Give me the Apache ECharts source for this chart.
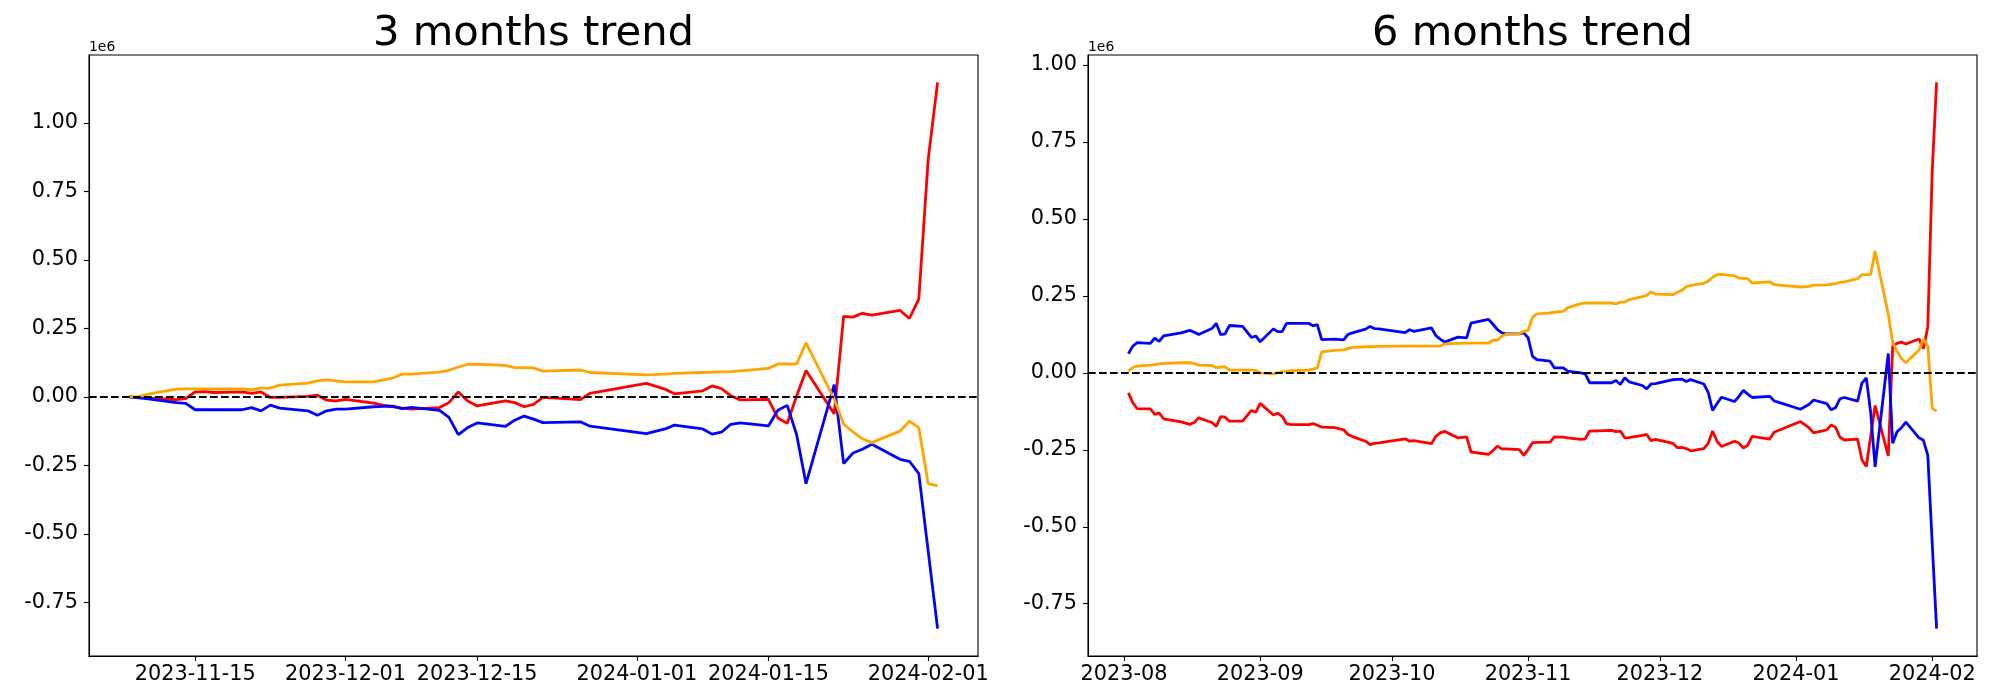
<!DOCTYPE html>
<html><head><meta charset="utf-8">
<script src="https://cdn.jsdelivr.net/npm/echarts@6/dist/echarts.min.js"></script>
<style>html,body{margin:0;padding:0;background:#fff}#c{width:2000px;height:700px}</style>
</head><body><div id="c"></div>
<script>
// ---------- 3 months (left) ----------
const leftDates = ['2023-11-08','2023-11-09','2023-11-10','2023-11-13','2023-11-14','2023-11-15','2023-11-16','2023-11-17','2023-11-20','2023-11-21','2023-11-22','2023-11-23','2023-11-24','2023-11-27','2023-11-28','2023-11-29','2023-11-30',
'2023-12-01','2023-12-04','2023-12-05','2023-12-06','2023-12-07','2023-12-08','2023-12-11','2023-12-12','2023-12-13','2023-12-14','2023-12-15','2023-12-18','2023-12-19','2023-12-20','2023-12-21','2023-12-22','2023-12-26','2023-12-27',
'2024-01-02','2024-01-04','2024-01-05','2024-01-08','2024-01-09','2024-01-10','2024-01-11','2024-01-12','2024-01-15','2024-01-16','2024-01-17','2024-01-18','2024-01-19','2024-01-22','2024-01-23','2024-01-24','2024-01-25','2024-01-26','2024-01-29','2024-01-30','2024-01-31',
'2024-02-01','2024-02-02'];
const leftBlue = [0,-4000,-7000,-21000,-24000,-47000,-47000,-47000,-47000,-39000,-51000,-30000,-41000,-51000,-67000,-51000,-45000,
-45000,-36000,-35000,-34000,-43000,-38000,-49000,-75000,-138000,-112000,-95000,-108000,-85000,-70000,-81000,-94000,-91000,-107000,
-134000,-117000,-103000,-117000,-136000,-129000,-100000,-95000,-106000,-49000,-31000,-138000,-317000,45000,-243000,-205000,-191000,-173000,-228000,-235000,-280000,
-563000,-846000];
const leftOrange = [0,1000,10000,28000,29000,29000,29000,29000,29000,26000,32000,32000,43000,50000,58000,62000,58000,
55000,55000,62000,68000,83000,83000,90000,97000,109000,119000,119000,115000,107000,107000,106000,94000,98000,89000,
80000,83000,86000,89000,90000,91000,92000,95000,104000,120000,120000,120000,197000,-8000,-99000,-128000,-153000,-167000,-125000,-89000,-112000,
-317000,-325000];
const leftRed = [0,-2000,-5000,-10000,-6000,18000,19000,16000,18000,13000,18000,-2000,-2000,2000,6000,-12000,-15000,
-9000,-23000,-30000,-36000,-41000,-45000,-39000,-21000,18000,-15000,-33000,-15000,-21000,-36000,-27000,-2000,-10000,13000,
49000,28000,11000,22000,40000,30000,4000,-11000,-9000,-77000,-96000,3000,96000,-62000,294000,291000,305000,298000,316000,286000,357000,
867000,1148000];
const leftXTicks = ['2023-11-15','2023-12-01','2023-12-15','2024-01-01','2024-01-15','2024-02-01'];

// ---------- 6 months (right) ----------
const rightDates = ['2023-08-02','2023-08-03','2023-08-04','2023-08-07','2023-08-08','2023-08-09','2023-08-10','2023-08-14','2023-08-16','2023-08-17','2023-08-18','2023-08-21','2023-08-22','2023-08-23','2023-08-24','2023-08-25','2023-08-28','2023-08-30','2023-08-31',
'2023-09-01','2023-09-04','2023-09-05','2023-09-06','2023-09-07','2023-09-08','2023-09-12','2023-09-13','2023-09-14','2023-09-15','2023-09-18','2023-09-20','2023-09-21','2023-09-22','2023-09-25','2023-09-26','2023-09-27','2023-09-28',
'2023-10-04','2023-10-05','2023-10-06','2023-10-10','2023-10-11','2023-10-12','2023-10-13','2023-10-16','2023-10-18','2023-10-19','2023-10-23','2023-10-24','2023-10-25','2023-10-26','2023-10-27','2023-10-30','2023-10-31',
'2023-11-01','2023-11-02','2023-11-03','2023-11-06','2023-11-07','2023-11-09','2023-11-10','2023-11-13','2023-11-14','2023-11-15','2023-11-20','2023-11-21','2023-11-22','2023-11-23','2023-11-24','2023-11-27','2023-11-28','2023-11-29','2023-11-30',
'2023-12-04','2023-12-05','2023-12-06','2023-12-07','2023-12-08','2023-12-11','2023-12-12','2023-12-13','2023-12-14','2023-12-15','2023-12-18','2023-12-19','2023-12-20','2023-12-21','2023-12-22','2023-12-26','2023-12-27',
'2024-01-02','2024-01-04','2024-01-05','2024-01-08','2024-01-09','2024-01-10','2024-01-11','2024-01-12','2024-01-15','2024-01-16','2024-01-17','2024-01-18','2024-01-19','2024-01-22','2024-01-23','2024-01-24','2024-01-25','2024-01-26','2024-01-29','2024-01-30','2024-01-31',
'2024-02-01','2024-02-02'];
const rightBlue = [62000,87000,98000,96000,113000,102000,120000,130000,138000,132000,125000,144000,161000,124000,127000,154000,151000,115000,120000,
101000,143000,134000,134000,161000,161000,161000,153000,157000,108000,110000,107000,125000,130000,142000,151000,144000,143000,
131000,140000,135000,146000,121000,110000,100000,116000,114000,162000,174000,158000,141000,130000,127000,127000,130000,
114000,54000,43000,38000,16000,16000,6000,0,-3000,-32000,-32000,-25000,-38000,-16000,-29000,-41000,-52000,-36000,-35000,
-22000,-21000,-20000,-28000,-22000,-36000,-63000,-122000,-100000,-79000,-93000,-76000,-57000,-69000,-80000,-76000,-91000,
-118000,-102000,-88000,-100000,-120000,-113000,-84000,-80000,-92000,-33000,-16000,-129000,-305000,63000,-229000,-191000,-178000,-160000,-211000,-219000,-268000,
-553000,-831000];
const rightOrange = [6000,17000,22000,25000,27000,29000,31000,33000,33000,30000,25000,24000,17000,19000,20000,9000,9000,9000,8000,
0,-3000,0,4000,5000,7000,9000,12000,16000,68000,73000,75000,79000,83000,85000,85000,85000,86000,
87000,87000,87000,87000,87000,87000,94000,96000,97000,97000,97000,106000,106000,119000,125000,127000,135000,
138000,181000,192000,195000,197000,200000,211000,225000,227000,227000,227000,224000,230000,230000,238000,248000,252000,263000,256000,
254000,262000,268000,280000,284000,291000,298000,311000,319000,320000,315000,308000,307000,306000,292000,296000,287000,
279000,281000,285000,286000,288000,290000,294000,296000,306000,319000,319000,320000,396000,190000,99000,70000,47000,33000,74000,110000,86000,
-115000,-124000];
const rightRed = [-65000,-97000,-116000,-117000,-135000,-130000,-149000,-159000,-167000,-161000,-146000,-161000,-174000,-142000,-144000,-157000,-157000,-122000,-128000,
-99000,-137000,-131000,-141000,-165000,-168000,-168000,-165000,-170000,-176000,-178000,-185000,-200000,-207000,-222000,-233000,-229000,-227000,
-214000,-222000,-220000,-230000,-206000,-195000,-190000,-211000,-208000,-257000,-265000,-252000,-238000,-247000,-247000,-249000,-268000,
-249000,-227000,-226000,-225000,-208000,-209000,-211000,-216000,-214000,-189000,-187000,-191000,-189000,-211000,-210000,-203000,-200000,-220000,-216000,
-229000,-243000,-242000,-246000,-253000,-246000,-229000,-189000,-222000,-239000,-222000,-228000,-244000,-235000,-206000,-215000,-193000,
-158000,-179000,-195000,-185000,-169000,-177000,-209000,-218000,-215000,-282000,-304000,-205000,-106000,-270000,86000,96000,100000,94000,110000,79000,149000,
653000,944000];
const rightXTicks = ['2023-08-01','2023-09-01','2023-10-01','2023-11-01','2023-12-01','2024-01-01','2024-02-01'];

const yTicks = [-750000,-500000,-250000,0,250000,500000,750000,1000000];
const titles = ['3 months trend','6 months trend'];

// ---------- helpers ----------
const FONT = 'DejaVu Sans';
function ts(s){ return Date.parse(s + 'T00:00:00Z'); }
function pairs(dates, vals){ return dates.map((d,i)=>[ts(d), vals[i]]); }
function pad2(n){ return String(n).padStart(2,'0'); }
function fmtDay(v){ const d=new Date(v); return d.getUTCFullYear()+'-'+pad2(d.getUTCMonth()+1)+'-'+pad2(d.getUTCDate()); }
function fmtMonth(v){ const d=new Date(v); return d.getUTCFullYear()+'-'+pad2(d.getUTCMonth()+1); }
function padRange(arr){ const lo=Math.min(...arr), hi=Math.max(...arr), m=(hi-lo)*0.05; return [lo-m, hi+m]; }

const lx = padRange(leftDates.map(ts));
const rx = padRange(rightDates.map(ts));
const ly = padRange(leftBlue.concat(leftOrange, leftRed));
const ry = padRange(rightBlue.concat(rightOrange, rightRed));

const grids = [
  {left:89, top:55, width:889, height:601},
  {left:1088, top:55, width:889, height:601}
];

function xAxis(idx, range, ticks, fmt){
  const tv = ticks.map(ts);
  return {
    type:'value', gridIndex:idx, min:range[0], max:range[1],
    axisLine:{show:true, onZero:false, lineStyle:{color:'#000', width:1.1}},
    axisTick:{show:true, length:5, lineStyle:{color:'#000', width:1.1}, customValues:tv},
    axisLabel:{show:true, margin:8, color:'#000', fontSize:20.8, fontFamily:FONT, customValues:tv, formatter:fmt},
    splitLine:{show:false}
  };
}
function yAxis(idx, range){
  return {
    type:'value', gridIndex:idx, min:range[0], max:range[1],
    axisLine:{show:true, onZero:false, lineStyle:{color:'#000', width:1.1}},
    axisTick:{show:true, length:5, lineStyle:{color:'#000', width:1.1}, customValues:yTicks},
    axisLabel:{show:true, margin:11, color:'#000', fontSize:20.8, fontFamily:FONT, customValues:yTicks,
      formatter:v=>(v/1e6).toFixed(2)},
    splitLine:{show:false}
  };
}
function line(idx, data, color, withZero){
  const s = {
    type:'line', xAxisIndex:idx, yAxisIndex:idx, data:data, showSymbol:false, symbol:'none',
    lineStyle:{color:color, width:2.8}, itemStyle:{color:color}, silent:true, animation:false
  };
  if (withZero) {
    s.markLine = {silent:true, symbol:['none','none'], label:{show:false},
      lineStyle:{color:'#000', width:2.1, type:[7.7,3.3]}, data:[{yAxis:0}], animation:false};
  }
  return s;
}

const chart = echarts.init(document.getElementById('c'), null, {renderer:'canvas'});
chart.setOption({
  animation:false,
  backgroundColor:'#fff',
  grid: grids.map(g=>Object.assign({show:true, borderColor:'#000', borderWidth:1.1, backgroundColor:'transparent', containLabel:false, outerBoundsMode:'none'}, g)),
  xAxis:[ xAxis(0, lx, leftXTicks, fmtDay), xAxis(1, rx, rightXTicks, fmtMonth) ],
  yAxis:[ yAxis(0, ly), yAxis(1, ry) ],
  series:[
    line(0, pairs(leftDates, leftRed), '#ff0000', false),
    line(0, pairs(leftDates, leftBlue), '#0000ff', false),
    line(0, pairs(leftDates, leftOrange), '#ffa500', true),
    line(1, pairs(rightDates, rightRed), '#ff0000', false),
    line(1, pairs(rightDates, rightBlue), '#0000ff', false),
    line(1, pairs(rightDates, rightOrange), '#ffa500', true)
  ],
  graphic:[
    {type:'text', x:89+889/2, y:55.2, style:{text:titles[0], font:'41.7px "DejaVu Sans"', fill:'#000', align:'center', verticalAlign:'bottom'}},
    {type:'text', x:1088+889/2, y:55.2, style:{text:titles[1], font:'41.7px "DejaVu Sans"', fill:'#000', align:'center', verticalAlign:'bottom'}},
    {type:'text', x:89, y:54.5, style:{text:'1e6', font:'13.9px "DejaVu Sans"', fill:'#000', align:'left', verticalAlign:'bottom'}},
    {type:'text', x:1088, y:54.5, style:{text:'1e6', font:'13.9px "DejaVu Sans"', fill:'#000', align:'left', verticalAlign:'bottom'}}
  ]
});
</script></body></html>
